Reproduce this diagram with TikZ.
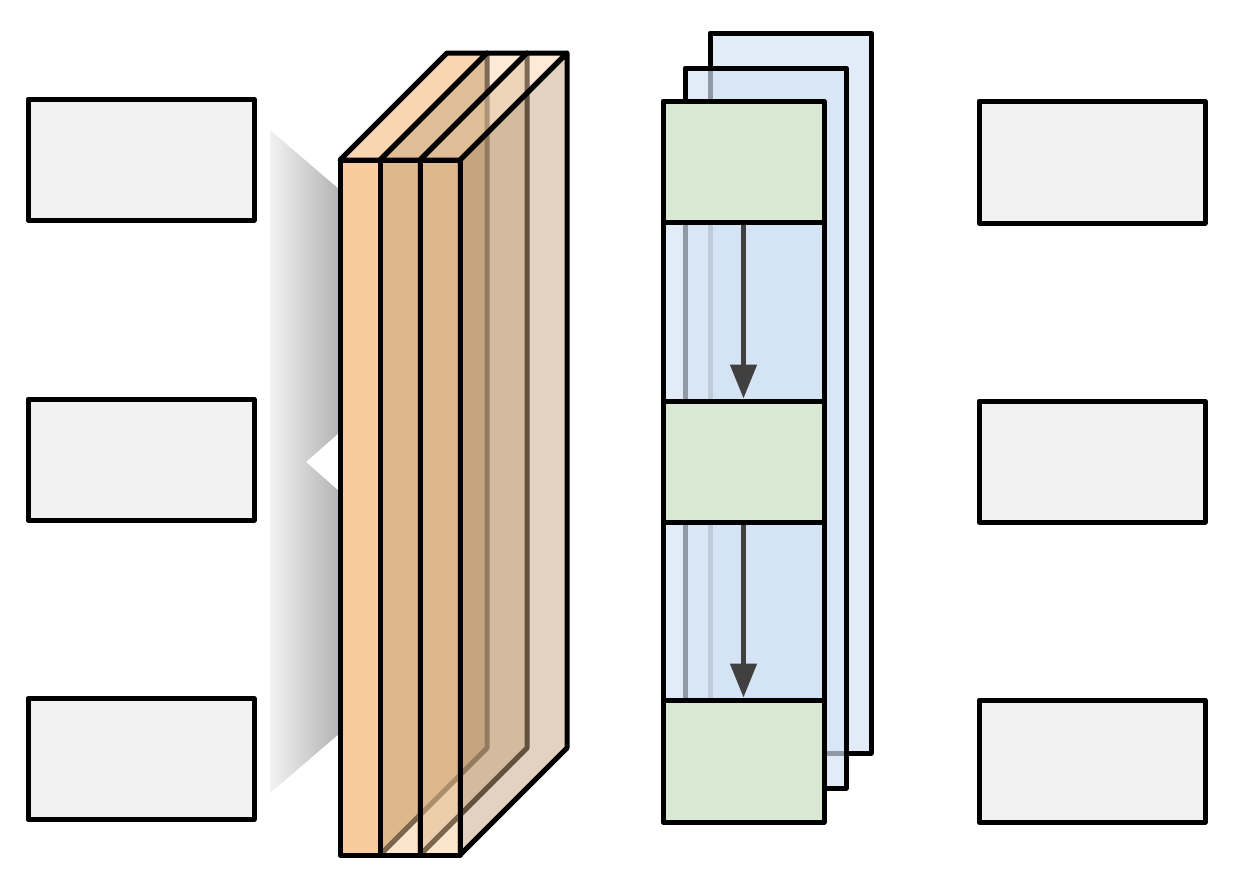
\documentclass[tikz,border=0pt]{standalone}
\usepackage{tikz}
\usetikzlibrary{arrows.meta}

\definecolor{boxgray}{HTML}{F2F2F2}
\definecolor{slabfront}{HTML}{F7CB9B}
\definecolor{slabtop}{HTML}{F9D5B0}
\definecolor{slabside}{HTML}{C5A57F}
\definecolor{sheetblue}{HTML}{D4E3F4}
\definecolor{cellgreen}{HTML}{D9E8D3}
\definecolor{arrowgray}{HTML}{404040}

\begin{document}
\begin{tikzpicture}[x=1pt, y=-1pt, line width=5pt, line join=round,
  box/.style={draw, fill=boxgray, inner sep=0pt, minimum width=226pt, minimum height=121pt},
  sheet/.style={draw, fill=sheetblue, fill opacity=0.68, draw opacity=1, inner sep=0pt, minimum width=161pt},
  cell/.style={draw, fill=cellgreen, inner sep=0pt, minimum width=161pt, minimum height=121pt},
  arr/.style={arrowgray, line width=5pt, -{Triangle[length=34pt, width=26pt]}}]
 \useasboundingbox (0,0) rectangle (1242,878);

 % boxes on the left and right
 \node[box] (in1) at (141,159.5) {};
 \node[box] (in2) at (141,459.5) {};
 \node[box] (in3) at (141,759) {};
 \node[box, minimum height=122pt] (out1) at (1092,162) {};
 \node[box] (out2) at (1092,461.5) {};
 \node[box, minimum height=122pt] (out3) at (1092,761) {};

 % shadow behind the slabs
 \shade[left color=boxgray, right color=black!30]
  (270,130) -- (340,190) -- (340,432) -- (306,462) -- (340,492)
  -- (340,733) -- (270,793) -- cycle;

 % three slabs
 \foreach \i/\op in {0/1, 1/0.5, 2/0.5} {
  \pgfmathsetmacro\xa{340+40*\i}
  \begin{scope}[fill opacity=\op]
   \filldraw[fill=slabside] (\xa+40,160) -- (\xa+147,53) -- (\xa+147,748) -- (\xa+40,855) -- cycle;
   \filldraw[fill=slabtop] (\xa,160) -- (\xa+107,53) -- (\xa+147,53) -- (\xa+40,160) -- cycle;
   \filldraw[fill=slabfront] (\xa,160) rectangle (\xa+40,855);
  \end{scope}
 }

 % stack of sheets
 \node[sheet, minimum height=720pt] (back) at (790.5,393) {};
 \node[sheet, minimum height=720pt] (mid) at (765.5,428) {};
 \node[cell] (g1) at (743.5,161.5) {};
 \node[sheet, minimum height=179pt] (b1) at (743.5,311.5) {};
 \node[cell] (g2) at (743.5,461.5) {};
 \node[sheet, minimum height=178pt] (b2) at (743.5,611) {};
 \node[cell, minimum height=122pt] (g3) at (743.5,761) {};

 \draw[arr] (g1.south) -- (g2.north);
 \draw[arr] (g2.south) -- (g3.north);
\end{tikzpicture}
\end{document}
